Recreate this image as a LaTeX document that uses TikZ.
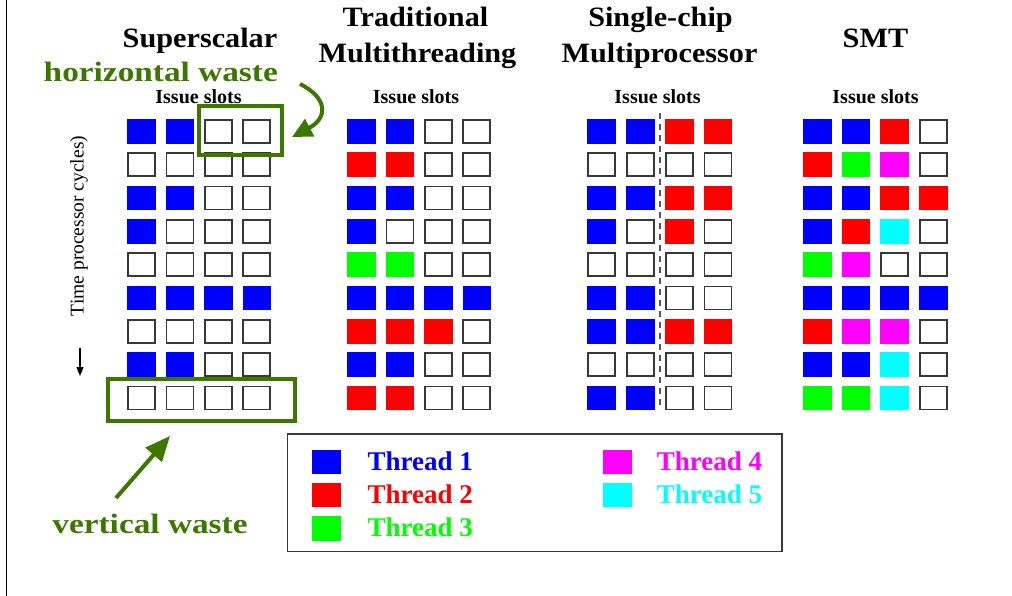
\documentclass[tikz,border=0pt]{standalone}
\usepackage{fontspec}
\setmainfont{Liberation Serif}
\newfontfamily\titlefont[FakeStretch=1.08]{Liberation Serif}
\newfontfamily\wastefont[FakeStretch=1.19]{Liberation Serif}
\usetikzlibrary{arrows.meta}

\definecolor{tblue}{RGB}{0,0,255}
\definecolor{tred}{RGB}{255,0,0}
\definecolor{tgreen}{RGB}{0,255,0}
\definecolor{tmagenta}{RGB}{255,0,255}
\definecolor{tcyan}{RGB}{0,255,255}
\definecolor{wastegreen}{RGB}{60,120,0}
\definecolor{slotgray}{RGB}{56,56,56}

% one grid of issue slots: name, x of first column, column pitch, rows
\newcommand\slotgrid[4]{%
  \foreach \row [count=\i from 0] in {#4} {
    \foreach \c [count=\j from 0] in \row {
      \node[slot\c] (#1-\i-\j) at ({#2+\j*#3}, {131.5+\i*33.3}) {};
    }
  }%
}

\begin{document}
\begin{tikzpicture}[x=1pt,y=-1pt,
  slotbase/.style={rectangle, inner sep=0pt, outer sep=0pt,
    minimum width=28.6pt, minimum height=24.6pt},
  slotB/.style={slotbase, fill=tblue},
  slotR/.style={slotbase, fill=tred},
  slotG/.style={slotbase, fill=tgreen},
  slotM/.style={slotbase, fill=tmagenta},
  slotC/.style={slotbase, fill=tcyan},
  slotE/.style={slotbase, minimum width=27pt, minimum height=23pt,
    draw=slotgray, line width=1.7pt, fill=white},
  title/.style={inner sep=0pt, anchor=base,
    font=\titlefont\fontsize{28}{30}\selectfont\bfseries},
  issue/.style={inner sep=0pt, anchor=base,
    font=\fontsize{20}{22}\selectfont\bfseries},
  waste/.style={inner sep=0pt, anchor=base, text=wastegreen,
    font=\wastefont\fontsize{28}{30}\selectfont\bfseries},
  wastebox/.style={rectangle, draw=wastegreen, line width=4pt,
    inner sep=0pt, outer sep=0pt},
  wastearrow/.style={draw=wastegreen, line width=4pt,
    -{Triangle[length=25pt,width=21pt]}},
  legtext/.style={inner sep=0pt, anchor=base west,
    font=\fontsize{27}{29}\selectfont\bfseries},
]
\useasboundingbox (0,0) rectangle (1012,596);

% left frame edge
\draw[line width=1.5pt] (6.7,0) -- (6.7,596);

% column titles
\node[title] (t-ss) at (200,47.5) {Superscalar};
\node[title] (t-tm1) at (415.5,26.7) {Traditional};
\node[title] (t-tm2) at (417.5,63) {Multithreading};
\node[title] (t-cmp1) at (660.5,26.7) {Single-chip};
\node[title] (t-cmp2) at (659.5,63) {Multiprocessor};
\node[title] (t-smt) at (875.5,47.5) {SMT};

% issue slot headings
\node[issue] (i-ss) at (198.5,104) {Issue slots};
\node[issue] (i-tm) at (416,104) {Issue slots};
\node[issue] (i-cmp) at (657.5,104) {Issue slots};
\node[issue] (i-smt) at (875.5,104) {Issue slots};

% slot grids
\slotgrid{ss}{141.6}{38.4}{{B,B,E,E},{E,E,E,E},{B,B,E,E},{B,E,E,E},{E,E,E,E},{B,B,B,B},{E,E,E,E},{B,B,E,E},{E,E,E,E}}
\slotgrid{tm}{361.6}{38.4}{{B,B,E,E},{R,R,E,E},{B,B,E,E},{B,E,E,E},{G,G,E,E},{B,B,B,B},{R,R,R,E},{B,B,E,E},{R,R,E,E}}
\slotgrid{cmp}{601.6}{38.8}{{B,B,R,R},{E,E,E,E},{B,B,R,R},{B,E,R,E},{E,E,E,E},{B,B,E,E},{B,B,R,R},{E,E,E,E},{B,B,E,E}}
\slotgrid{smt}{817.2}{38.7}{{B,B,R,E},{R,G,M,E},{B,B,R,R},{B,R,C,E},{G,M,E,E},{B,B,B,B},{R,M,M,E},{B,B,C,E},{G,G,C,E}}

% processor split in the single-chip multiprocessor
\coordinate (split-top) at (660,113);
\coordinate (split-bot) at (660,410);
\draw[slotgray!85, line width=2pt, dash pattern=on 6pt off 5pt]
  (split-top) -- (split-bot);

% time axis
\node[inner sep=0pt, rotate=90, font=\fontsize{19.5}{21}\selectfont]
  (time) at (79,226) {Time processor cycles)};
\coordinate (time-a) at (80,348);
\coordinate (time-b) at (80,376);
\draw[line width=1.3pt, -{Triangle[length=9pt,width=7pt]}] (time-a) -- (time-b);

% horizontal waste
\node[waste] (hw-label) at (160.8,81.7) {horizontal waste};
\node[wastebox, minimum width=82.7pt, minimum height=48.7pt]
  (hw-box) at (240.65,130.35) {};
\coordinate (hw-tail) at (300,84);
\coordinate (hw-tip) at (292,137);
\draw[wastearrow, -{Triangle[length=20pt,width=19pt]}]
  (hw-tail) .. controls (328,98) and (328,118) .. (hw-tip);

% vertical waste
\node[wastebox, minimum width=186.7pt, minimum height=42pt]
  (vw-box) at (201.35,399.7) {};
\node[waste] (vw-label) at (150,533.3) {vertical waste};
\coordinate (vw-tail) at (116,498);
\coordinate (vw-tip) at (170,436);
\draw[wastearrow] (vw-tail) -- (vw-tip);

% legend
\node[rectangle, draw=slotgray, line width=1.5pt, inner sep=0pt,
  minimum width=494.5pt, minimum height=117.5pt] (legend) at (534.75,492.75) {};
\node[slotB, minimum width=28.7pt, minimum height=24.3pt] (k1) at (326.7,462.2) {};
\node[slotR, minimum width=28.7pt, minimum height=24.3pt] (k2) at (326.7,495.2) {};
\node[slotG, minimum width=28.7pt, minimum height=24.3pt] (k3) at (326.7,528.4) {};
\node[slotM, minimum width=28.7pt, minimum height=24.3pt] (k4) at (617.2,462.2) {};
\node[slotC, minimum width=28.7pt, minimum height=24.3pt] (k5) at (617.2,495.2) {};
\node[legtext, text=tblue] (l1) at (367.3,470) {Thread 1};
\node[legtext, text=tred] (l2) at (367.3,503.3) {Thread 2};
\node[legtext, text=tgreen] (l3) at (367.3,536.7) {Thread 3};
\node[legtext, text=tmagenta] (l4) at (656.7,470) {Thread 4};
\node[legtext, text=tcyan] (l5) at (656.7,503.3) {Thread 5};
\end{tikzpicture}
\end{document}
